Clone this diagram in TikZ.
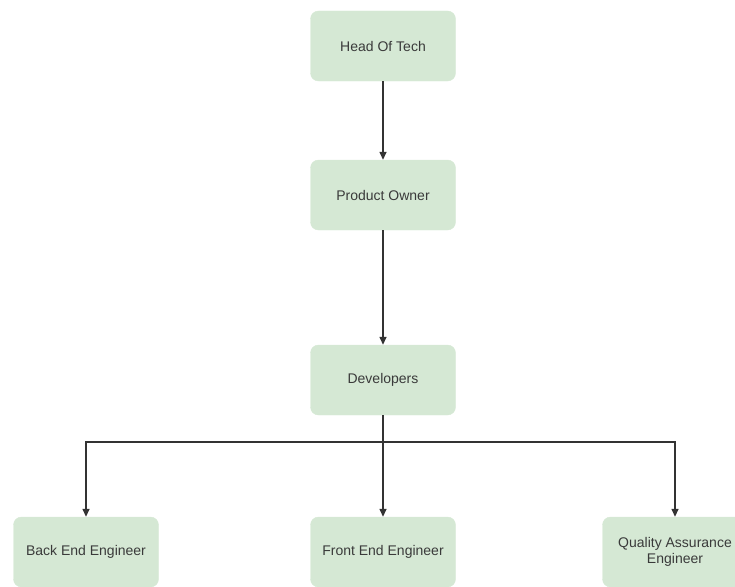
\documentclass[tikz,border=0pt]{standalone}
\usepackage{fontspec}
\setmainfont{Liberation Sans}
\usetikzlibrary{arrows.meta}
\definecolor{boxfill}{HTML}{D5E8D4}
\definecolor{txt}{HTML}{3A3A3A}
\begin{document}
\begin{tikzpicture}[x=1pt,y=-1pt,
  box/.style={draw=boxfill, fill=boxfill, rounded corners=8pt, minimum width=145pt, minimum height=70pt, text=txt, font=\fontsize{14}{16}\selectfont, align=center, inner sep=0pt},
  conn/.style={draw=black!80, line width=1.4pt, -{Triangle[length=8pt,width=7pt]}}]
\useasboundingbox (0,0) rectangle (735,586);
\clip (0,0) rectangle (735,586);
\node[box] (head) at (383,46) {Head Of Tech};
\node[box] (po) at (383,195) {Product Owner};
\node[box] (dev) at (383,380) {Developers};
\node[box] (be) at (86,552) {Back End Engineer};
\node[box] (fe) at (383,552) {Front End Engineer};
\node[box] (qa) at (675,552) {Quality Assurance\\Engineer};
\coordinate (j) at (383,442);
\draw[conn] (head) -- (po);
\draw[conn] (po) -- (dev);
\draw[conn] (dev.south) -- (fe.north);
\draw[conn] (j) -| (be.north);
\draw[conn] (j) -| (qa.north);
\end{tikzpicture}
\end{document}
